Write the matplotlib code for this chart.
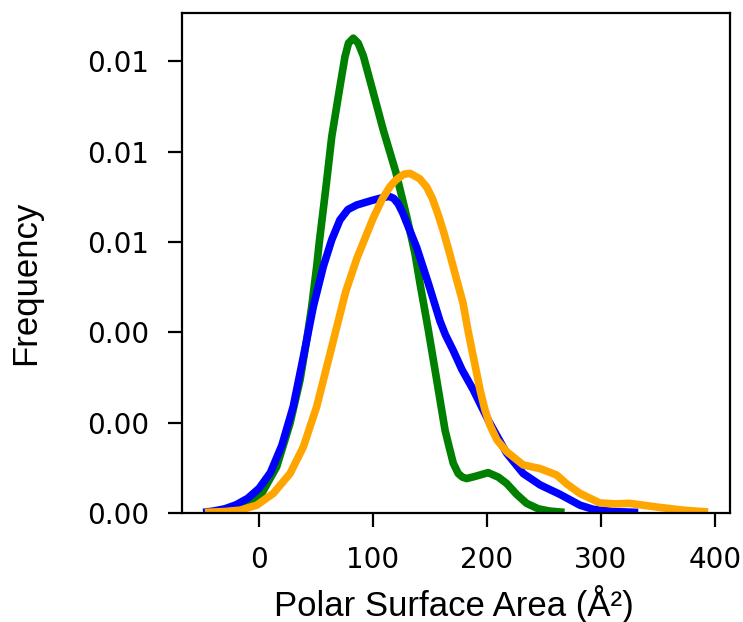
import matplotlib
matplotlib.use("Agg")
import matplotlib.pyplot as plt
from matplotlib.ticker import FormatStrFormatter

# ---- data (x in Å², y = density) ----
green_x = [-47, -30, -15, -5, 2.4, 15.5, 27.2, 36, 41.8, 46.2, 50.6, 52.9, 58.8, 63.8,
           71, 75.4, 78.5, 82.7, 87, 91.5, 98.8, 109, 120, 129.6, 136.8, 141.2, 148.5,
           155.9, 163.2, 167, 170.4, 174.8, 178.5, 182.2, 190, 201, 210, 217.3, 226,
           234.8, 245, 255, 268]
green_y = [0.00002, 0.00006, 0.00014, 0.00025, 0.00044, 0.00103, 0.00199, 0.00295,
           0.00383, 0.00457, 0.00546, 0.00600, 0.00723, 0.00833, 0.00944, 0.01010,
           0.01040, 0.01051, 0.01040, 0.01012, 0.00944, 0.00848, 0.00755, 0.00656,
           0.00575, 0.00509, 0.00406, 0.00295, 0.00184, 0.00145, 0.00111, 0.00088,
           0.00080, 0.00077, 0.00082, 0.00090, 0.00080, 0.00066, 0.00042, 0.00022,
           0.00010, 0.00005, 0.00002]

blue_x = [-49, -40, -30, -20, -10, 0, 10, 20, 30, 38.9, 47.6, 56.4, 63.8, 71, 78, 85.7,
          100.3, 108, 114, 118, 122, 126, 130, 134, 138.3, 148.5, 158.8, 163.5, 170.4,
          178, 188, 195, 202.6, 217.3, 231.8, 246.5, 264, 281.6, 293, 310, 332.7]
blue_y = [0.00002, 0.00005, 0.00010, 0.00019, 0.00033, 0.00055, 0.00090, 0.00150,
          0.00236, 0.00346, 0.00457, 0.00546, 0.00605, 0.00649, 0.00672, 0.00682,
          0.00693, 0.00698, 0.00701, 0.00697, 0.00685, 0.00665, 0.00640, 0.00615,
          0.00588, 0.00509, 0.00425, 0.00395, 0.00360, 0.00318, 0.00273, 0.00237,
          0.00199, 0.00133, 0.00088, 0.00063, 0.00042, 0.00018, 0.00009, 0.00004, 0.00002]

orange_x = [-47.4, -30, -16.7, -2, 12.5, 27.2, 38.9, 50.6, 59.4, 68, 76, 86, 100, 108,
            115, 120, 127, 132.5, 141, 147, 152, 157, 162, 167, 172, 179, 183.3, 186.8,
            190.4, 193.9, 198.2, 202.6, 208.8, 217.5, 231.8, 246.5, 261, 270, 281.6, 299,
            312, 325.4, 340, 351.8, 372, 394]
orange_y = [0.00002, 0.00004, 0.00007, 0.00018, 0.00044, 0.00088, 0.00147, 0.00236,
            0.00324, 0.00410, 0.00490, 0.00565, 0.00652, 0.00695, 0.00723, 0.00737,
            0.00750, 0.00752, 0.00740, 0.00722, 0.00697, 0.00662, 0.00622, 0.00577,
            0.00530, 0.00465, 0.00405, 0.00361, 0.00317, 0.00273, 0.00229, 0.00195,
            0.00162, 0.00136, 0.00107, 0.00099, 0.00085, 0.00065, 0.00044, 0.00023,
            0.00021, 0.00022, 0.00017, 0.00013, 0.00007, 0.00003]

x_ticks = [0, 100, 200, 300, 400]
y_ticks = [0.0, 0.002, 0.004, 0.006, 0.008, 0.010]

plt.rcParams['font.family'] = ['DejaVu Sans']

fig = plt.figure(figsize=(7.43, 6.22), dpi=100)
ax = fig.add_axes([0.2446, 0.1747, 0.7379, 0.8039])

lw = 5.5
for xs, ys, c in [(green_x, green_y, 'green'), (blue_x, blue_y, 'blue'),
                  (orange_x, orange_y, 'orange')]:
    ax.plot(xs, ys, color=c, lw=lw, solid_capstyle='butt', solid_joinstyle='round')

ax.set_xlim(-67.8, 413.2)
ax.set_ylim(0, 0.01106)
ax.set_xticks(x_ticks)
ax.set_yticks(y_ticks)
ax.yaxis.set_major_formatter(FormatStrFormatter('%.2f'))

for s in ax.spines.values():
    s.set_linewidth(1.6)
    s.set_color('black')
ax.tick_params(axis='both', which='major', length=10, width=1.6, pad=13.5,
               labelsize=20, colors='black')

label_font = ['Liberation Sans', 'DejaVu Sans']
ax.set_xlabel('Polar Surface Area (Å²)', fontsize=25, family=label_font)
ax.set_ylabel('Frequency', fontsize=25, family=label_font)
ax.xaxis.set_label_coords(0.497, -0.143)
ax.yaxis.set_label_coords(-0.2548, 0.4616)

fig.savefig('out.png', dpi=100)
